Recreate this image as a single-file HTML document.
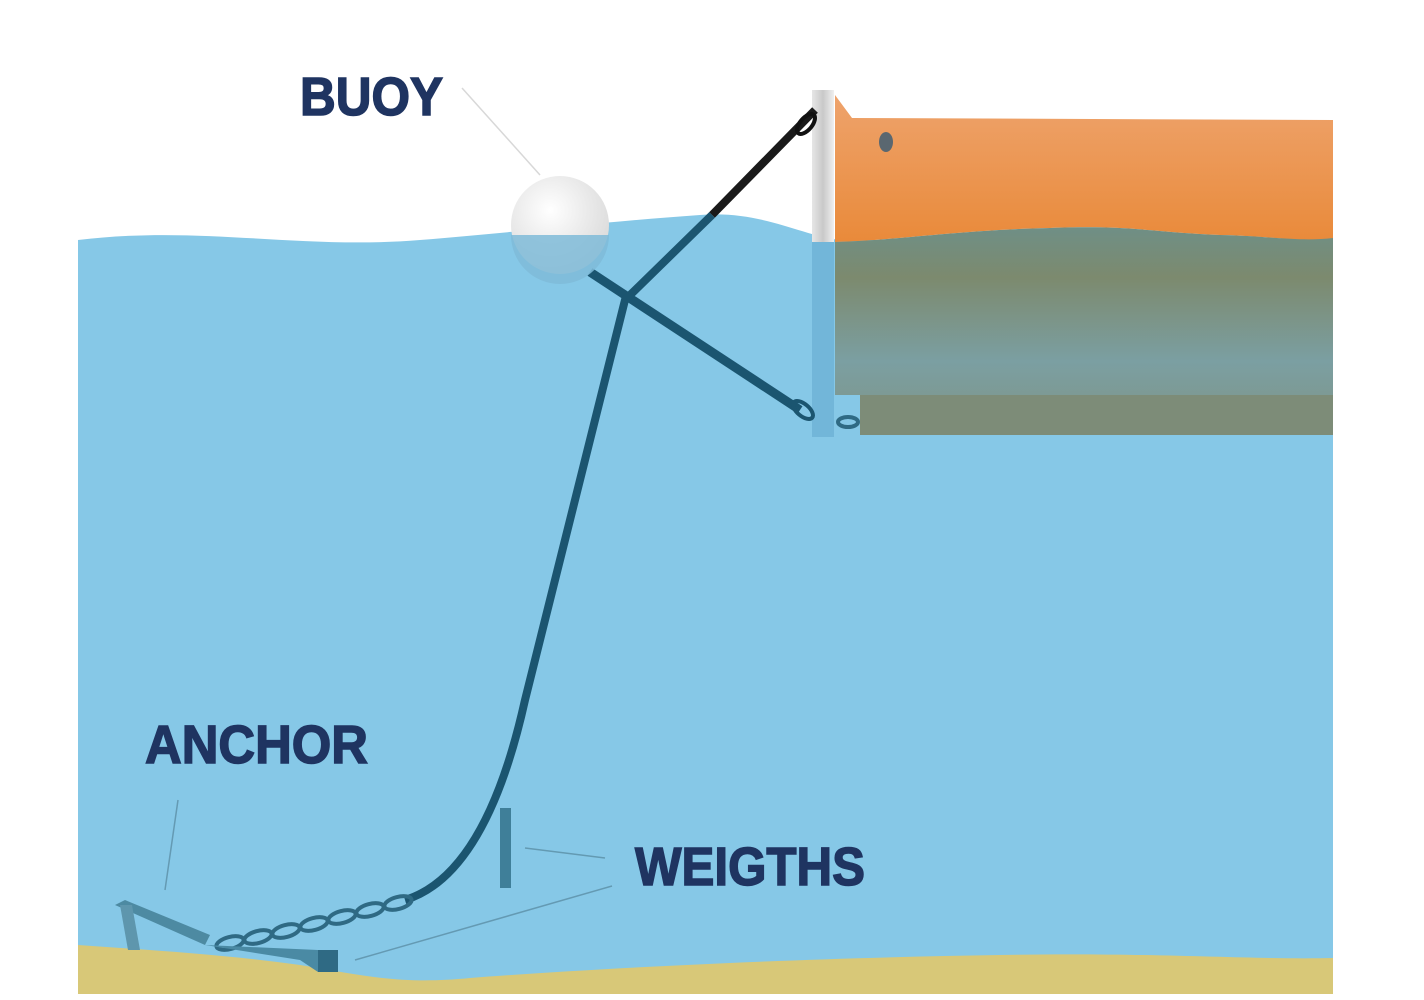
<!DOCTYPE html>
<html><head><meta charset="utf-8"><style>
html,body{margin:0;padding:0;background:#fff;width:1424px;height:1000px;overflow:hidden}
svg{display:block}
text{font-family:"Liberation Sans",sans-serif;font-weight:bold;fill:#1f3461;stroke:#1f3461;stroke-width:1.5}
</style></head><body>
<svg width="1424" height="1000" viewBox="0 0 1424 1000" xmlns="http://www.w3.org/2000/svg">
<defs>
<linearGradient id="org" x1="0" y1="0" x2="0" y2="1"><stop offset="0" stop-color="#eea36c"/><stop offset="1" stop-color="#e98a3a"/></linearGradient>
<linearGradient id="sub" x1="0" y1="0" x2="0" y2="1"><stop offset="0" stop-color="#6f8f86"/><stop offset="0.3" stop-color="#7c8a6e"/><stop offset="0.8" stop-color="#7b9fa2"/><stop offset="1" stop-color="#7d9a95"/></linearGradient>
<linearGradient id="post" x1="0" y1="0" x2="1" y2="0"><stop offset="0" stop-color="#e6e6e6"/><stop offset="0.5" stop-color="#c9c9c9"/><stop offset="1" stop-color="#efefef"/></linearGradient>
<radialGradient id="buoy" cx="0.4" cy="0.35" r="0.7"><stop offset="0" stop-color="#ffffff"/><stop offset="1" stop-color="#d9d9d9"/></radialGradient>
</defs>
<path d="M78,240 C200,225 300,250 420,240 C520,232 600,222 700,215 C760,210 800,235 840,240 L1333,240 L1333,994 L78,994 Z" fill="#86c8e7"/>
<path d="M78,945 C150,950 230,955 300,965 C360,975 400,985 470,978 C600,968 800,958 1000,955 C1150,952 1250,960 1333,958 L1333,994 L78,994 Z" fill="#d8c878"/>
<path d="M835,95 L852,118 L1333,120 L1333,240 C1300,242 1270,236 1220,235 C1150,232 1130,225 1050,228 C960,230 900,240 835,242 Z" fill="url(#org)"/>
<ellipse cx="886" cy="142" rx="7" ry="10" fill="#5a6770"/>
<path d="M835,242 C900,240 960,230 1050,228 C1130,225 1150,232 1220,235 C1270,236 1300,242 1333,238 L1333,395 L835,395 Z" fill="url(#sub)"/>
<rect x="860" y="395" width="473" height="40" fill="#7d8c78"/>
<rect x="812" y="90" width="22" height="152" fill="url(#post)"/>
<rect x="812" y="242" width="22" height="195" fill="#6fb3d6" opacity="0.85"/>
<path d="M590,272 L800,410" stroke="#1b5570" stroke-width="9" fill="none"/>
<path d="M815,110 L712,215" stroke="#1a1a1a" stroke-width="8" fill="none"/>
<path d="M712,215 L625,300 C600,400 560,560 525,700 C505,790 470,880 405,900" stroke="#1b5570" stroke-width="8" fill="none"/>
<ellipse cx="806" cy="124" rx="6" ry="12" transform="rotate(40 806 124)" fill="none" stroke="#111" stroke-width="4"/>
<ellipse cx="803" cy="410" rx="6" ry="12" transform="rotate(-50 803 410)" fill="none" stroke="#1b5570" stroke-width="4"/>
<g fill="none" stroke="#2f6a84" stroke-width="4">
<ellipse cx="848" cy="422" rx="10" ry="5"/>
<ellipse cx="398" cy="903" rx="14" ry="6" transform="rotate(-15 398 903)"/>
<ellipse cx="370" cy="910" rx="14" ry="6" transform="rotate(-15 370 910)"/>
<ellipse cx="342" cy="917" rx="14" ry="6" transform="rotate(-15 342 917)"/>
<ellipse cx="314" cy="924" rx="14" ry="6" transform="rotate(-15 314 924)"/>
<ellipse cx="286" cy="931" rx="14" ry="6" transform="rotate(-15 286 931)"/>
<ellipse cx="258" cy="937" rx="14" ry="6" transform="rotate(-15 258 937)"/>
<ellipse cx="230" cy="943" rx="14" ry="6" transform="rotate(-15 230 943)"/>
</g>
<circle cx="560" cy="225" r="49" fill="url(#buoy)"/>
<path d="M511,235 A49,49 0 0 0 609,235 Z" fill="#7fbbd8" opacity="0.85"/>
<rect x="500" y="808" width="11" height="80" fill="#3f7f99"/>
<path d="M115,905 L125,900 L210,935 L205,945 Z" fill="#4d8aa2"/>
<path d="M120,905 L132,905 L140,950 L128,950 Z" fill="#5e96ad"/>
<path d="M205,945 L318,950 L318,972 L300,960 Z" fill="#4a8aa4"/>
<rect x="318" y="950" width="20" height="22" fill="#2f6a84"/>
<g stroke="#5b8fa6" stroke-width="1.5" fill="none" opacity="0.8">
<path d="M178,800 L165,890"/>
<path d="M525,848 L605,858"/>
<path d="M355,960 L612,886"/>
</g>
<path d="M462,88 L540,175" stroke="#d8d8d8" stroke-width="1.5"/>
<text x="300" y="115" font-size="54" textLength="143" lengthAdjust="spacingAndGlyphs">BUOY</text>
<text x="145" y="763" font-size="54" textLength="223" lengthAdjust="spacingAndGlyphs">ANCHOR</text>
<text x="635" y="885" font-size="54" textLength="230" lengthAdjust="spacingAndGlyphs">WEIGTHS</text>
</svg>
</body></html>
